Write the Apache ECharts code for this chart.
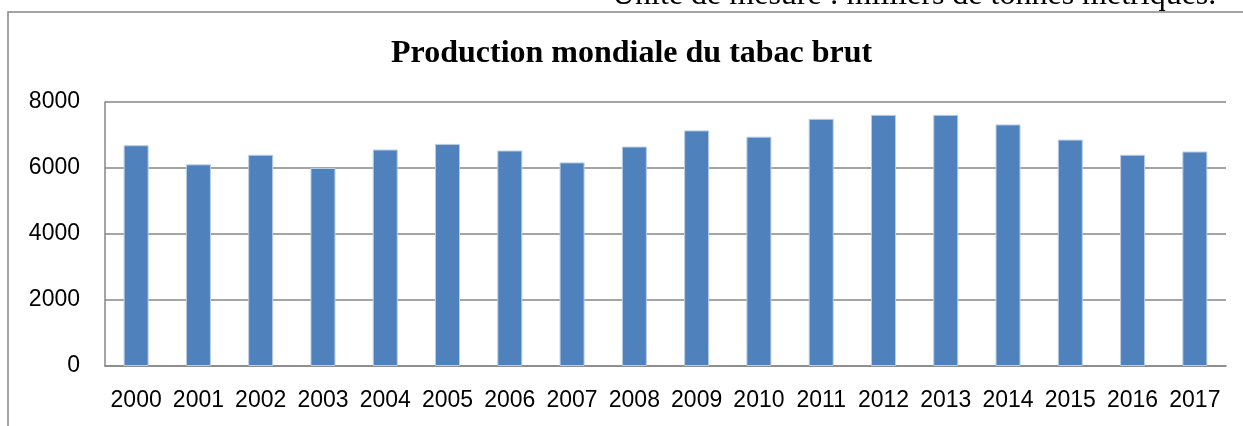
<!DOCTYPE html>
<html>
<head>
<meta charset="utf-8">
<script src="https://cdn.jsdelivr.net/npm/echarts@6/dist/echarts.min.js"></script>
<style>
  html, body { margin: 0; padding: 0; background: #fff; }
  #chart { width: 1243px; height: 426px; }
</style>
</head>
<body>
<div id="chart"></div>
<script>
// production mondiale du tabac brut (milliers de tonnes)
const years = ['2000', '2001', '2002', '2003', '2004', '2005', '2006', '2007', '2008',
  '2009', '2010', '2011', '2012', '2013', '2014', '2015', '2016', '2017']
const production = [6690, 6110, 6400, 6000, 6560, 6730, 6530, 6170, 6650,
  7140, 6950, 7490, 7610, 7610, 7320, 6860, 6400, 6500]
const yTicks = [0, 2000, 4000, 6000, 8000]

const labelFont = "'Liberation Sans', sans-serif"

const myChart = echarts.init(document.getElementById('chart'))
const option = {
  animation: false,
  backgroundColor: '#fff',
  graphic: [
    {
      type: 'rect',
      shape: { x: 8, y: 12, width: 1400, height: 600 },
      style: { fill: 'none', stroke: '#868686', lineWidth: 1.5 },
      silent: true
    },
    {
      type: 'text',
      x: 612,
      y: 12,
      style: {
        text: 'Unité de mesure : milliers de tonnes métriques.',
        font: '32px "Liberation Serif", serif',
        fill: '#000',
        verticalAlign: 'bottom'
      }
    }
  ],
  title: {
    text: 'Production mondiale du tabac brut',
    left: 386,
    top: 33,
    textStyle: {
      fontFamily: "'Liberation Serif', serif",
      fontWeight: 'bold',
      fontSize: 32,
      color: '#000'
    }
  },
  grid: { left: 105, right: 17, top: 102, bottom: 60 },
  xAxis: {
    type: 'category',
    data: years,
    axisLine: { lineStyle: { color: '#868686', width: 1.5 } },
    axisTick: { show: false },
    axisLabel: { color: '#000', fontSize: 23, fontFamily: labelFont, margin: 23, interval: 0 }
  },
  yAxis: {
    type: 'value',
    min: yTicks[0],
    max: yTicks[yTicks.length - 1],
    interval: 2000,
    axisLine: { show: true, lineStyle: { color: '#868686', width: 1.5 } },
    axisTick: { show: false },
    splitLine: { lineStyle: { color: '#868686', width: 1.5 } },
    axisLabel: {
      color: '#000', fontSize: 23, fontFamily: labelFont, margin: 25,
      formatter: v => String(v)
    }
  },
  series: [{
    name: 'Production',
    type: 'bar',
    data: production,
    barWidth: 25,
    itemStyle: { color: '#4F81BD', borderColor: '#B9CDE5', borderWidth: 1 }
  }]
}
myChart.setOption(option, true)
</script>
</body>
</html>
